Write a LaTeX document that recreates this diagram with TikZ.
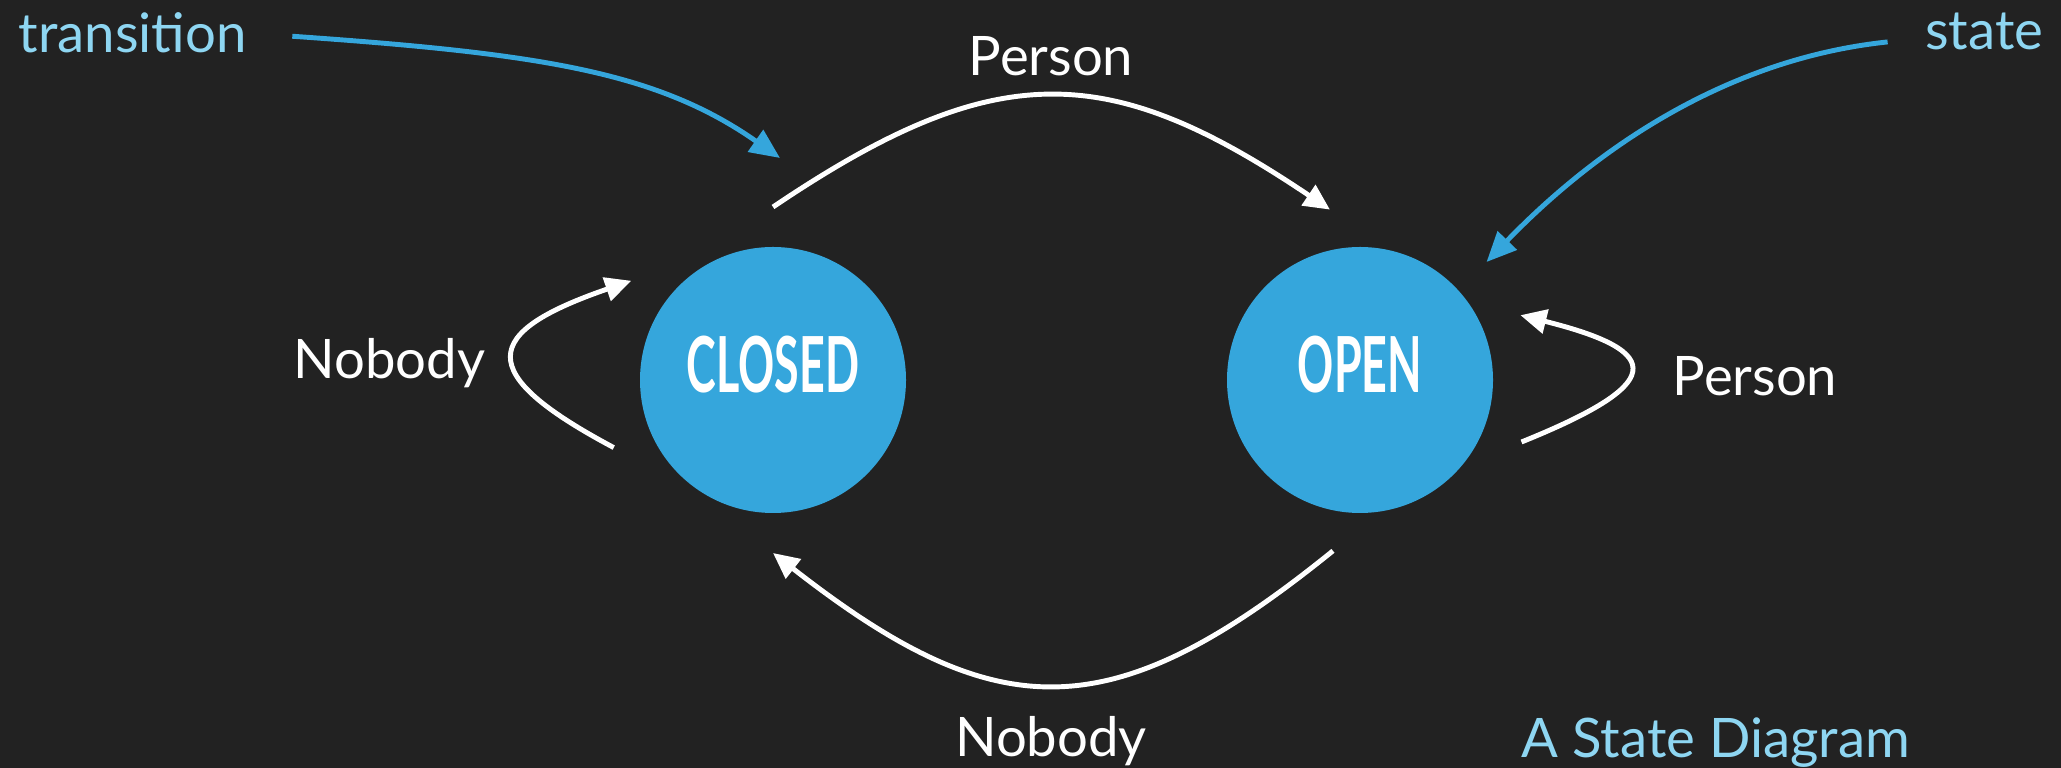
\documentclass[tikz,border=0pt]{standalone}
\usepackage{fontspec}
\usepackage{graphicx}
\setmainfont{Lato}
\usetikzlibrary{arrows.meta}

\definecolor{bgcolor}{HTML}{222222}
\definecolor{stateblue}{HTML}{35A6DC}
\definecolor{notecolor}{HTML}{8ED6F2}

\tikzset{
  state/.style={circle, fill=stateblue, minimum size=2.66cm, inner sep=0pt,
    outer sep=0.4cm, text=white, text depth=0.31cm,
    font=\fontsize{22}{22}\selectfont\bfseries},
  trans/.style={draw=white, line width=1.4pt,
    -{Triangle[length=2.6mm,width=2.4mm]}},
  pointer/.style={draw=stateblue, line width=1.4pt,
    -{Triangle[length=3mm,width=2.6mm]}},
  lbl/.style={text=white, inner sep=0pt, font=\fontsize{15.5}{18}\selectfont},
  note/.style={lbl, text=notecolor}
}

\begin{document}
\begin{tikzpicture}
\fill[bgcolor] (0,0) rectangle (20.61,7.68);
\useasboundingbox (0,0) rectangle (20.61,7.68);

% the two states
\node[state] (closed) at (7.73,3.88) {\scalebox{0.58}[1]{CLOSED}};
\node[state] (open) at (13.60,3.88) {\scalebox{0.58}[1]{OPEN}};

% transition labels
\node[lbl, anchor=base] (toplbl) at (10.51,6.92) {Person};
\node[lbl, anchor=base] (botlbl) at (10.51,0.11) {Nobody};
\node[lbl, anchor=base east] (leftlbl) at (4.86,3.89) {Nobody};
\node[lbl, anchor=base west] (rightlbl) at (16.72,3.72) {Person};

% transitions
\draw[trans] (closed.90) to[out=34, in=146, looseness=1.23] (open.100);
\draw[trans] (open.261) to[out=-141, in=-38, looseness=1.3] (closed.270);
\draw[trans] (closed.203) to[out=152, in=199, looseness=2.43] (closed.145);
\draw[trans] (open.-21) to[out=22, in=-14, looseness=3.08] (open.22);

% notes
\node[note, anchor=base west] (transition) at (0.18,7.15) {transition};
\node[note, anchor=base east] (state) at (20.44,7.18) {state};
\node[note, anchor=base west] (caption) at (15.21,0.10) {A State Diagram};

\coordinate (transtip) at (7.80,6.10);
\draw[pointer] ([xshift=4.5mm,yshift=-0.3mm]transition.east)
  .. controls +(-4:2.5) and +(145:1.5) .. (transtip);
\draw[pointer] ([xshift=-3.7mm,yshift=-1mm]state.west)
  .. controls +(186:1.6) and +(46:1.6) .. (open.43);

\end{tikzpicture}
\end{document}
